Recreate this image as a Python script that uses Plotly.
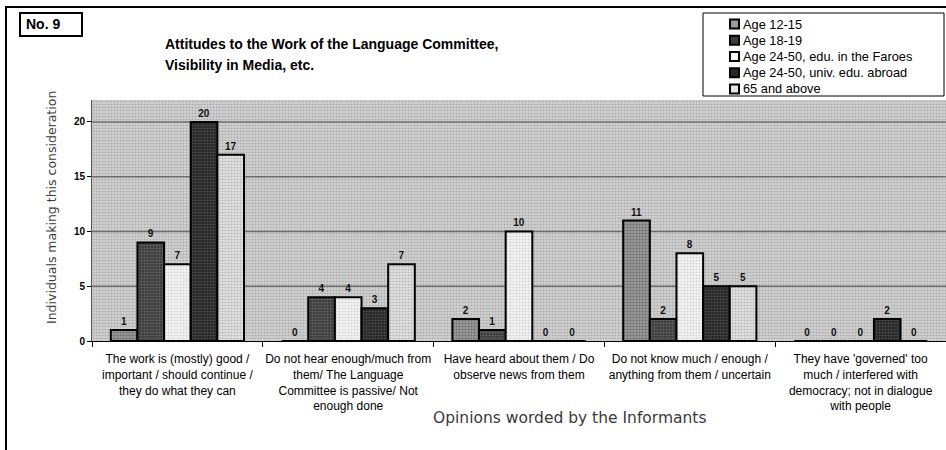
import plotly.graph_objects as go

# Opinion categories (x axis)
categories = [
    "The work is (mostly) good /<br>important / should continue /<br>they do what they can",
    "Do not hear enough/much from<br>them/ The Language<br>Committee is passive/ Not<br>enough done",
    "Have heard about them / Do<br>observe news from them",
    "Do not know much / enough /<br>anything from them / uncertain",
    "They have 'governed' too<br>much / interfered with<br>democracy; not in dialogue<br>with people",
]

# Informant groups and their counts per opinion
age_12_15 = [1, 0, 2, 11, 0]
age_18_19 = [9, 4, 1, 2, 0]
age_24_50_faroes = [7, 4, 10, 8, 0]
age_24_50_abroad = [20, 3, 0, 5, 2]
age_65_above = [17, 7, 0, 5, 0]

series_names = [
    "Age 12-15",
    "Age 18-19",
    "Age 24-50, edu. in the Faroes",
    "Age 24-50, univ. edu. abroad",
    "65 and above",
]
series_values = [age_12_15, age_18_19, age_24_50_faroes, age_24_50_abroad, age_65_above]

y_ticks = [0, 5, 10, 15, 20]
y_max = 22

# dithered-looking fills: (background, dots)
fills = [
    ("#9a9a9a", "#404040"),
    ("#3c3c3c", "#8a8a8a"),
    ("#f6f6f6", "#b0b0b0"),
    ("#262626", "#707070"),
    ("#e4e4e4", "#8c8c8c"),
]

W, H = 946, 450
ML, MR, MT, MB = 92, 0, 100, 109
PW, PH = W - ML - MR, H - MT - MB


def px_x(v):
    # page pixel -> paper fraction (paper spans the plot area)
    return (v - ML) / PW


def px_y(v):
    return (H - MB - v) / PH


fig = go.Figure()

# stippled plot background on the lower subplot
fig.add_trace(go.Bar(
    x=[(len(categories) - 1) / 2], y=[y_max], width=[len(categories)],
    xaxis="x", yaxis="y", showlegend=False, hoverinfo="skip",
    marker=dict(color="#d2d2d2", line=dict(width=0),
                pattern=dict(shape=".", fgcolor="#858585", bgcolor="#d2d2d2",
                             size=3, solidity=0.38)),
))

# horizontal grid lines at the y ticks
gx, gy = [], []
for t in y_ticks[1:]:
    gx += [-0.5, len(categories) - 0.5, None]
    gy += [t, t, None]
fig.add_trace(go.Scatter(
    x=gx, y=gy, mode="lines", xaxis="x", yaxis="y",
    line=dict(color="#6e6e6e", width=1.5), showlegend=False, hoverinfo="skip",
))

# grouped bars on the upper subplot
for name, vals, (bg, fg) in zip(series_names, series_values, fills):
    fig.add_trace(go.Bar(
        name=name, x=categories, y=vals, xaxis="x2", yaxis="y2",
        text=vals, texttemplate="%{y}", textposition="outside",
        cliponaxis=False, showlegend=False,
        textfont=dict(family="Liberation Sans, Arial", size=10, color="#111111", weight="bold"),
        marker=dict(color=bg, line=dict(color="#000000", width=2),
                    pattern=dict(shape=".", fgcolor=fg, bgcolor=bg, size=3, solidity=0.4)),
    ))

fig.update_layout(
    width=W, height=H,
    margin=dict(l=ML, r=MR, t=MT, b=MB, pad=0, autoexpand=False),
    paper_bgcolor="#ffffff",
    plot_bgcolor="rgba(0,0,0,0)",
    barmode="group",
    bargap=0.22,
    bargroupgap=0,
    font=dict(family="Liberation Sans, Arial", color="#000000"),
    xaxis=dict(domain=[0, 1], range=[-0.5, len(categories) - 0.5], visible=False,
               fixedrange=True),
    yaxis=dict(domain=[0, 1], range=[0, y_max], visible=False, anchor="x",
               fixedrange=True),
    xaxis2=dict(domain=[0, 1], anchor="y2", type="category",
                range=[-0.5, len(categories) - 0.5], automargin=False,
                tickson="boundaries", ticks="outside", ticklen=5, tickangle=0,
                ticklabelstandoff=7,
                tickcolor="#000000", showline=True, linecolor="#000000", linewidth=1,
                showgrid=False, tickfont=dict(size=12, color="#000000")),
    yaxis2=dict(domain=[0, 1], anchor="x2", range=[0, y_max], automargin=False,
                tickvals=y_ticks, ticks="outside", ticklen=4, tickcolor="#000000",
                showline=True, linecolor="#555555", linewidth=1,
                showgrid=False, zeroline=False,
                tickfont=dict(size=10, weight="bold", color="#000000")),
    showlegend=False,
)

shapes = [
    # outer frame
    dict(type="rect", xref="paper", yref="paper",
         x0=px_x(6), x1=px_x(960), y0=px_y(470), y1=px_y(7),
         line=dict(color="#000000", width=2), fillcolor="rgba(0,0,0,0)", layer="above"),
    # "No. 9" box
    dict(type="rect", xref="paper", yref="paper",
         x0=px_x(20), x1=px_x(82), y0=px_y(36), y1=px_y(13),
         line=dict(color="#000000", width=2), fillcolor="#ffffff", layer="above"),
    # legend box
    dict(type="rect", xref="paper", yref="paper",
         x0=px_x(703), x1=px_x(944), y0=px_y(96), y1=px_y(13),
         line=dict(color="#000000", width=1), fillcolor="#ffffff", layer="above"),
]

annotations = [
    dict(text="<b>No. 9</b>", x=px_x(24), y=px_y(24), xref="paper", yref="paper",
         xanchor="left", yanchor="middle", showarrow=False,
         font=dict(size=14, color="#000000")),
    dict(text="<b>Attitudes to the Work of the Language Committee,</b>",
         x=px_x(163), y=px_y(44), xref="paper", yref="paper",
         xanchor="left", yanchor="middle", showarrow=False,
         font=dict(size=14, color="#000000")),
    dict(text="<b>Visibility in Media, etc.</b>",
         x=px_x(163), y=px_y(65), xref="paper", yref="paper",
         xanchor="left", yanchor="middle", showarrow=False,
         font=dict(size=14, color="#000000")),
    dict(text="Individuals making this consideration",
         x=px_x(51), y=px_y(208), xref="paper", yref="paper",
         xanchor="center", yanchor="middle", textangle=-90, showarrow=False,
         font=dict(family="DejaVu Sans", size=12.5, color="#3a3a3a")),
    dict(text="Opinions worded by the Informants",
         x=px_x(570), y=px_y(418), xref="paper", yref="paper",
         xanchor="center", yanchor="middle", showarrow=False,
         font=dict(family="DejaVu Sans", size=15.5, color="#3a3a3a")),
]

# legend key: swatch + series name, one row per series
row_y0, row_step = 24, 16.25
for i, (name, (bg, fg)) in enumerate(zip(series_names, fills)):
    cy = row_y0 + i * row_step
    shapes.append(dict(type="rect", xref="paper", yref="paper",
                       x0=px_x(730), x1=px_x(739), y0=px_y(cy + 4.5), y1=px_y(cy - 4.5),
                       line=dict(color="#000000", width=2), fillcolor=bg, layer="above"))
    annotations.append(dict(text=name, x=px_x(741), y=px_y(cy), xref="paper", yref="paper",
                            xanchor="left", yanchor="middle", showarrow=False,
                            font=dict(size=12.8, color="#000000")))

fig.update_layout(shapes=shapes, annotations=annotations)

fig.write_html("out.html")
